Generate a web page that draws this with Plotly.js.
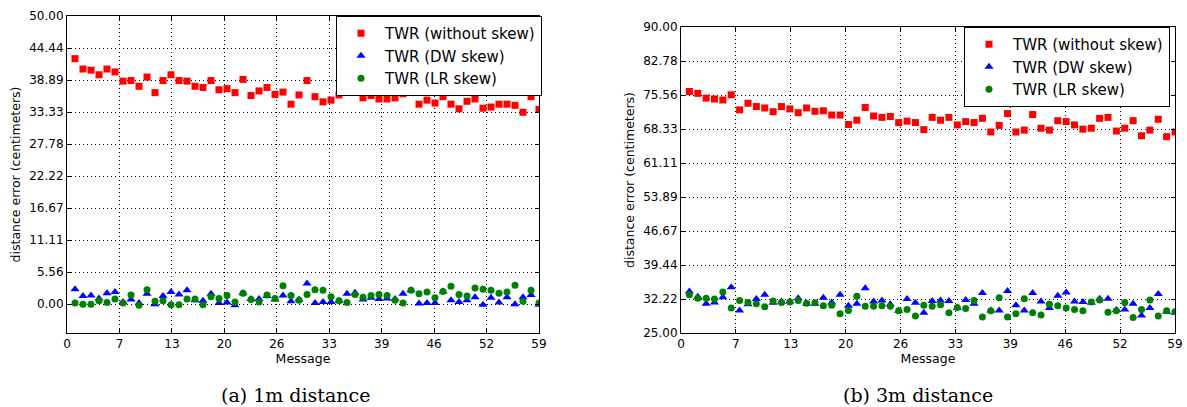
<!DOCTYPE html>
<html>
<head>
<meta charset="utf-8">
<script src="https://cdn.plot.ly/plotly-3.0.1.min.js"></script>
<style>html,body{margin:0;padding:0;background:#fff;}#chart{width:1187px;height:407px;}</style>
</head>
<body>
<div id="chart"></div>
<script>
const messages = [1,2,3,4,5,6,7,8,9,10,11,12,13,14,15,16,17,18,19,20,21,22,23,24,25,26,27,28,29,30,31,32,33,34,35,36,37,38,39,40,41,42,43,44,45,46,47,48,49,50,51,52,53,54,55,56,57,58,59];

// (a) 1m distance
const a_noSkew = [42.6,40.8,40.6,39.8,40.8,40.3,38.7,38.8,37.8,39.4,36.7,38.8,39.8,38.8,38.7,37.8,37.6,38.8,37.2,37.4,36.7,39.0,36.2,37.0,37.6,36.4,36.8,34.7,36.3,38.8,36.0,35.1,35.4,36.3,36.9,37.0,35.8,36.2,35.6,35.6,35.8,36.5,37.2,34.7,35.4,34.9,36.0,34.7,33.9,35.2,35.6,34.0,34.2,34.7,34.7,34.5,33.3,36.0,33.8];
const a_dw = [2.6,1.4,1.5,1.0,1.9,2.1,0.4,0.8,0.2,1.8,0.0,1.4,2.1,1.7,2.4,0.7,0.6,1.8,0.2,0.3,-0.2,1.9,0.9,0.9,1.4,0.8,1.5,0.5,0.8,3.6,0.2,0.4,0.4,0.6,1.8,2.0,0.8,1.1,0.9,1.0,0.9,1.8,2.4,0.1,0.2,0.2,2.2,0.7,0.4,0.7,1.2,-0.1,1.1,0.3,1.2,0.0,1.2,1.6,-0.1];
const a_lr = [0.2,0.0,0.0,0.6,0.3,0.9,0.2,1.6,-0.2,2.5,0.5,0.6,-0.1,-0.1,0.9,0.9,-0.1,1.3,1.0,1.5,0.4,1.9,0.8,0.4,1.6,1.0,3.2,1.5,0.7,1.7,2.5,2.4,1.3,0.6,0.3,1.7,1.2,1.5,1.7,1.5,0.7,0.2,2.4,1.8,2.1,1.1,2.2,3.1,1.7,1.4,2.8,2.6,2.4,1.9,2.1,3.3,0.5,2.4,0.2];

// (b) 3m distance
const b_noSkew = [76.3,75.9,74.9,74.7,74.5,75.6,72.4,73.8,73.1,72.8,72.0,73.1,72.6,71.8,72.8,72.1,72.2,71.3,71.3,69.3,70.2,72.9,71.1,70.8,71.0,69.7,70.0,69.7,68.2,70.8,70.2,70.8,69.2,69.9,69.7,70.6,67.7,69.1,71.6,67.7,68.1,71.4,68.5,68.1,70.1,69.9,69.2,68.3,68.5,70.6,70.8,67.9,68.5,70.1,66.9,68.1,70.4,66.7,67.7];
const b_dw = [33.8,32.7,31.2,31.5,32.6,34.7,29.8,31.1,32.2,33.1,31.4,31.7,31.7,32.4,31.2,31.2,32.5,31.5,33.1,30.8,31.2,34.5,31.7,31.9,31.1,29.7,32.2,31.4,29.3,31.8,31.9,31.8,30.3,32.0,31.2,33.5,29.8,29.8,33.9,30.9,29.8,33.5,31.7,30.3,32.9,33.6,31.7,31.6,31.4,32.3,32.3,29.9,30.0,31.2,28.7,30.3,33.3,29.5,29.3];
const b_lr = [33.1,32.4,32.4,32.2,33.7,30.3,31.9,31.5,31.2,30.6,31.8,31.5,31.6,31.9,31.3,31.4,30.8,30.9,29.1,29.8,32.8,30.7,30.7,30.8,30.7,29.7,30.0,28.6,30.9,30.7,31.0,29.3,30.4,30.2,31.9,28.4,29.7,32.5,28.4,29.1,32.3,29.3,28.8,31.1,30.8,30.3,30.0,29.7,31.6,32.0,29.4,29.7,31.5,28.3,30.0,32.0,28.6,29.7,29.5];

const seriesNames = ["TWR (without skew)", "TWR (DW skew)", "TWR (LR skew)"];
const xTickVals = [0,6.5556,13.1111,19.6667,26.2222,32.7778,39.3333,45.8889,52.4444,59];
const xTickText = ["0","7","13","20","26","33","39","46","52","59"];
const aTickVals = [0,5.5556,11.1111,16.6667,22.2222,27.7778,33.3333,38.8889,44.4444,50];
const aTickText = ["0.00","5.56","11.11","16.67","22.22","27.78","33.33","38.89","44.44","50.00"];
const bTickVals = [25,32.2222,39.4444,46.6667,53.8889,61.1111,68.3333,75.5556,82.7778,90];
const bTickText = ["25.00","32.22","39.44","46.67","53.89","61.11","68.33","75.56","82.78","90.00"];
const captions = ["(a) 1m distance", "(b) 3m distance"];

const colors = ["#ff0000", "#0000ff", "#008000"];
const symbols = ["square", "triangle-up", "circle"];
const sizes = [7, 8, 7];

function mk(y, k, xa, ya, leg) {
  return {
    x: messages, y: y, type: "scatter", mode: "markers",
    name: seriesNames[k], xaxis: xa, yaxis: ya, legend: leg,
    marker: {color: colors[k], symbol: symbols[k], size: sizes[k], line: {width: 0}}
  };
}
const data = [
  mk(a_noSkew, 0, "x", "y", "legend"),
  mk(a_dw, 1, "x", "y", "legend"),
  mk(a_lr, 2, "x", "y", "legend"),
  mk(b_noSkew, 0, "x2", "y2", "legend2"),
  mk(b_dw, 1, "x2", "y2", "legend2"),
  mk(b_lr, 2, "x2", "y2", "legend2")
];

const W = 1187, H = 407;
const tickFont = {family: "DejaVu Sans", size: 12, color: "#000"};
const gridDash = "1px,3px";
function xax(d, anchor) {
  return {
    domain: d, anchor: anchor, range: [0, 59],
    tickvals: xTickVals, ticktext: xTickText, tickfont: tickFont,
    ticks: "inside", ticklen: 4, tickcolor: "#000",
    showline: true, linecolor: "#000", linewidth: 1, mirror: "ticks",
    showgrid: true, gridcolor: "#000", griddash: gridDash, gridwidth: 1,
    zeroline: false,
    title: {text: "Message", font: {family: "DejaVu Sans", size: 12.5, color: "#000"}, standoff: 3}
  };
}
function yax(d, anchor, r, tv, tt) {
  return {
    domain: d, anchor: anchor, range: r,
    tickvals: tv, ticktext: tt, tickfont: tickFont,
    ticks: "inside", ticklen: 4, tickcolor: "#000",
    showline: true, linecolor: "#000", linewidth: 1, mirror: "ticks",
    showgrid: true, gridcolor: "#000", griddash: gridDash, gridwidth: 1,
    zeroline: false,
    title: {text: "distance error (centimeters)", font: {family: "DejaVu Sans", size: 12.5, color: "#000"}, standoff: 5}
  };
}
const legFont = {family: "DejaVu Sans", size: 15, color: "#000"};
const layout = {
  width: W, height: H,
  margin: {l: 0, r: 0, t: 0, b: 0},
  paper_bgcolor: "#fff", plot_bgcolor: "#fff",
  showlegend: true,
  xaxis: xax([67/W, 539/W], "y"),
  yaxis: yax([1 - 333/H, 1 - 16/H], "x", [-5, 50], aTickVals, aTickText),
  xaxis2: xax([681/W, 1175/W], "y2"),
  yaxis2: yax([1 - 333/H, 1 - 27/H], "x2", [25, 90], bTickVals, bTickText),
  legend: {x: 336/W, y: 1 - 16/H, xanchor: "left", yanchor: "top", bgcolor: "#fff",
    bordercolor: "#000", borderwidth: 1, font: legFont, itemwidth: 38, tracegroupgap: 0},
  legend2: {x: 964/W, y: 1 - 27/H, xanchor: "left", yanchor: "top", bgcolor: "#fff",
    bordercolor: "#000", borderwidth: 1, font: legFont, itemwidth: 38, tracegroupgap: 0},
  annotations: [
    {text: captions[0], xref: "paper", yref: "paper", x: 295/W, y: 1 - 395/H, showarrow: false,
      font: {family: "DejaVu Serif", size: 19, color: "#000"}, xanchor: "center", yanchor: "middle"},
    {text: captions[1], xref: "paper", yref: "paper", x: 918/W, y: 1 - 395/H, showarrow: false,
      font: {family: "DejaVu Serif", size: 19, color: "#000"}, xanchor: "center", yanchor: "middle"}
  ]
};
Plotly.newPlot("chart", data, layout, {displayModeBar: false, staticPlot: true});
</script>
</body>
</html>
